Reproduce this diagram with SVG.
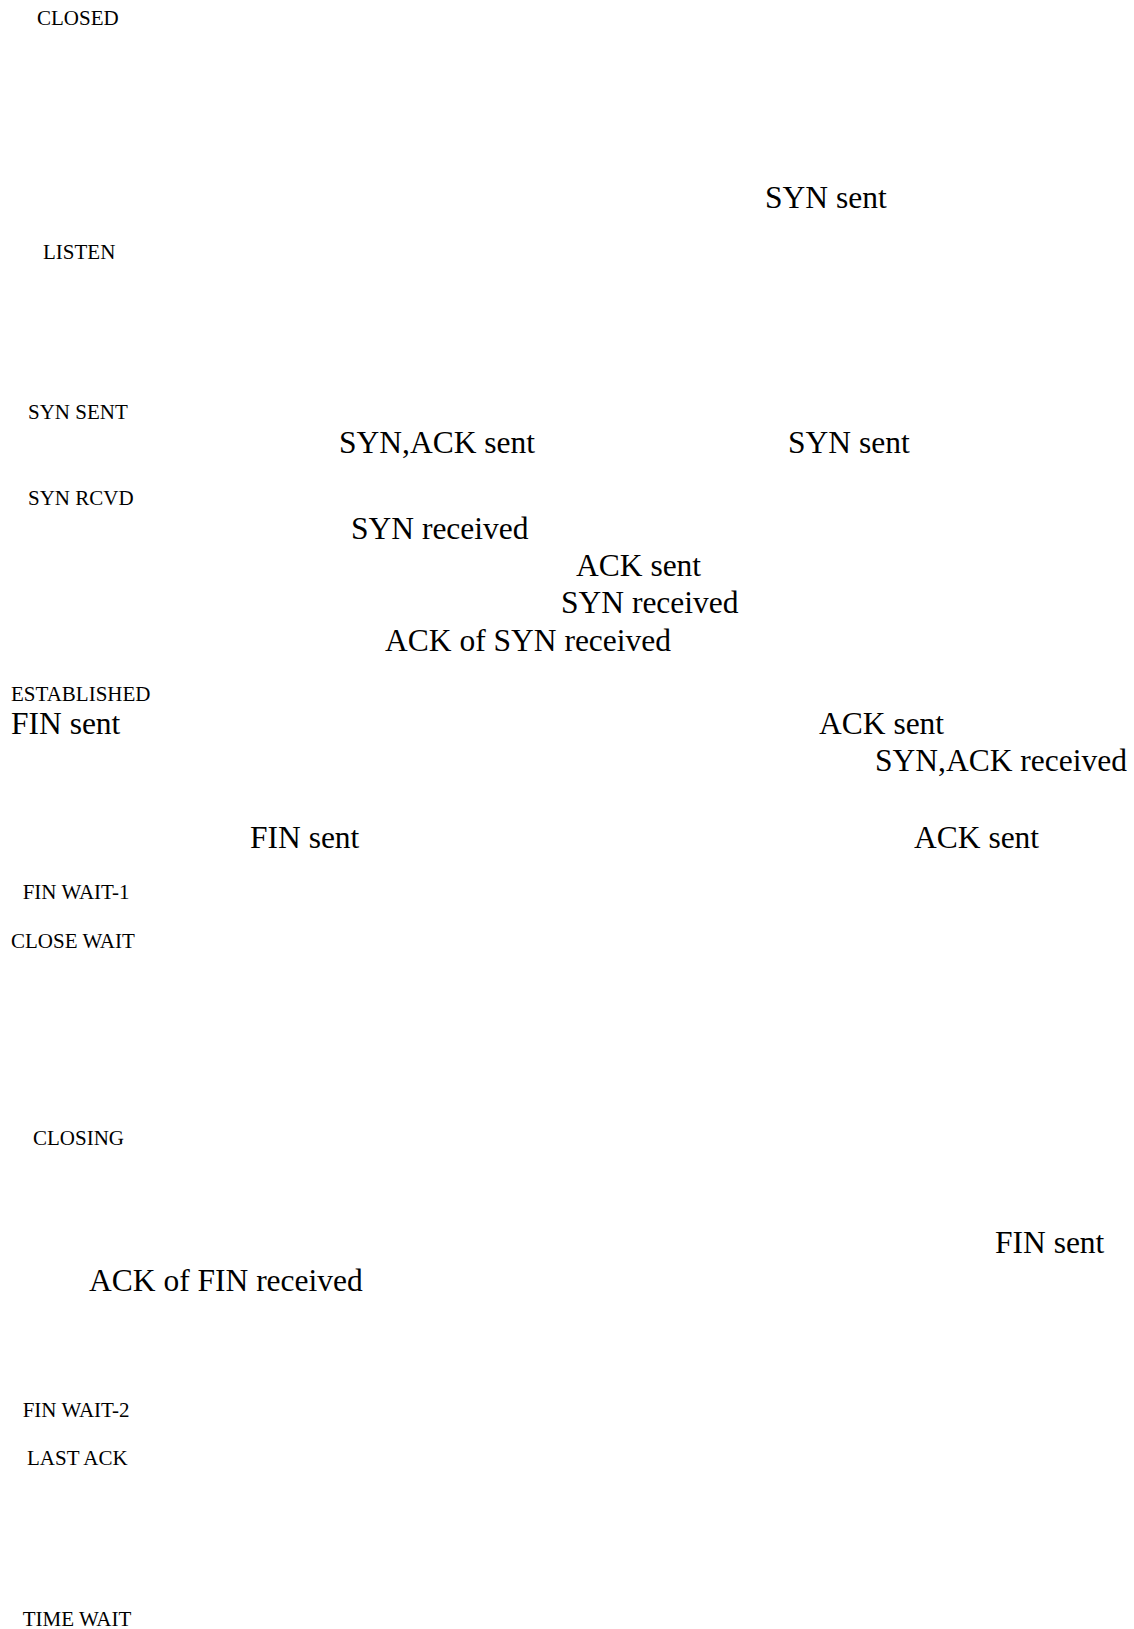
<svg xmlns="http://www.w3.org/2000/svg" width="1134" height="1629" viewBox="0 0 1134 1629">
<style>
text { font-family: "Liberation Serif", "Times New Roman", serif; fill: #000; }
.state { font-size: 21px; }
.label { font-size: 31.5px; }
</style>
<rect width="1134" height="1629" fill="#fff"/>
<g id="connectors"></g>
<g id="states">
<g id="closed"><text class="state" x="37" y="25">CLOSED</text></g>
<g id="listen"><text class="state" x="43" y="259">LISTEN</text></g>
<g id="syn-sent"><text class="state" x="28" y="419">SYN SENT</text></g>
<g id="syn-rcvd"><text class="state" x="28" y="505">SYN RCVD</text></g>
<g id="established"><text class="state" x="11" y="701">ESTABLISHED</text></g>
<g id="fin-wait-1"><text class="state" x="22.7" y="899">FIN WAIT-1</text></g>
<g id="close-wait"><text class="state" x="11" y="948">CLOSE WAIT</text></g>
<g id="closing"><text class="state" x="33" y="1145">CLOSING</text></g>
<g id="fin-wait-2"><text class="state" x="22.7" y="1417">FIN WAIT-2</text></g>
<g id="last-ack"><text class="state" x="27" y="1465">LAST ACK</text></g>
<g id="time-wait"><text class="state" x="22.7" y="1626">TIME WAIT</text></g>
</g>
<g id="labels">
<text class="label" x="765" y="208">SYN sent</text>
<text class="label" x="339" y="453">SYN,ACK sent</text>
<text class="label" x="788" y="453">SYN sent</text>
<text class="label" x="351" y="539">SYN received</text>
<text class="label" x="576" y="576">ACK sent</text>
<text class="label" x="561" y="613">SYN received</text>
<text class="label" x="385" y="651">ACK of SYN received</text>
<text class="label" x="11" y="734">FIN sent</text>
<text class="label" x="819" y="734">ACK sent</text>
<text class="label" x="875" y="771">SYN,ACK received</text>
<text class="label" x="250" y="848">FIN sent</text>
<text class="label" x="914" y="848">ACK sent</text>
<text class="label" x="995" y="1253">FIN sent</text>
<text class="label" x="89" y="1291">ACK of FIN received</text>
</g>
</svg>
